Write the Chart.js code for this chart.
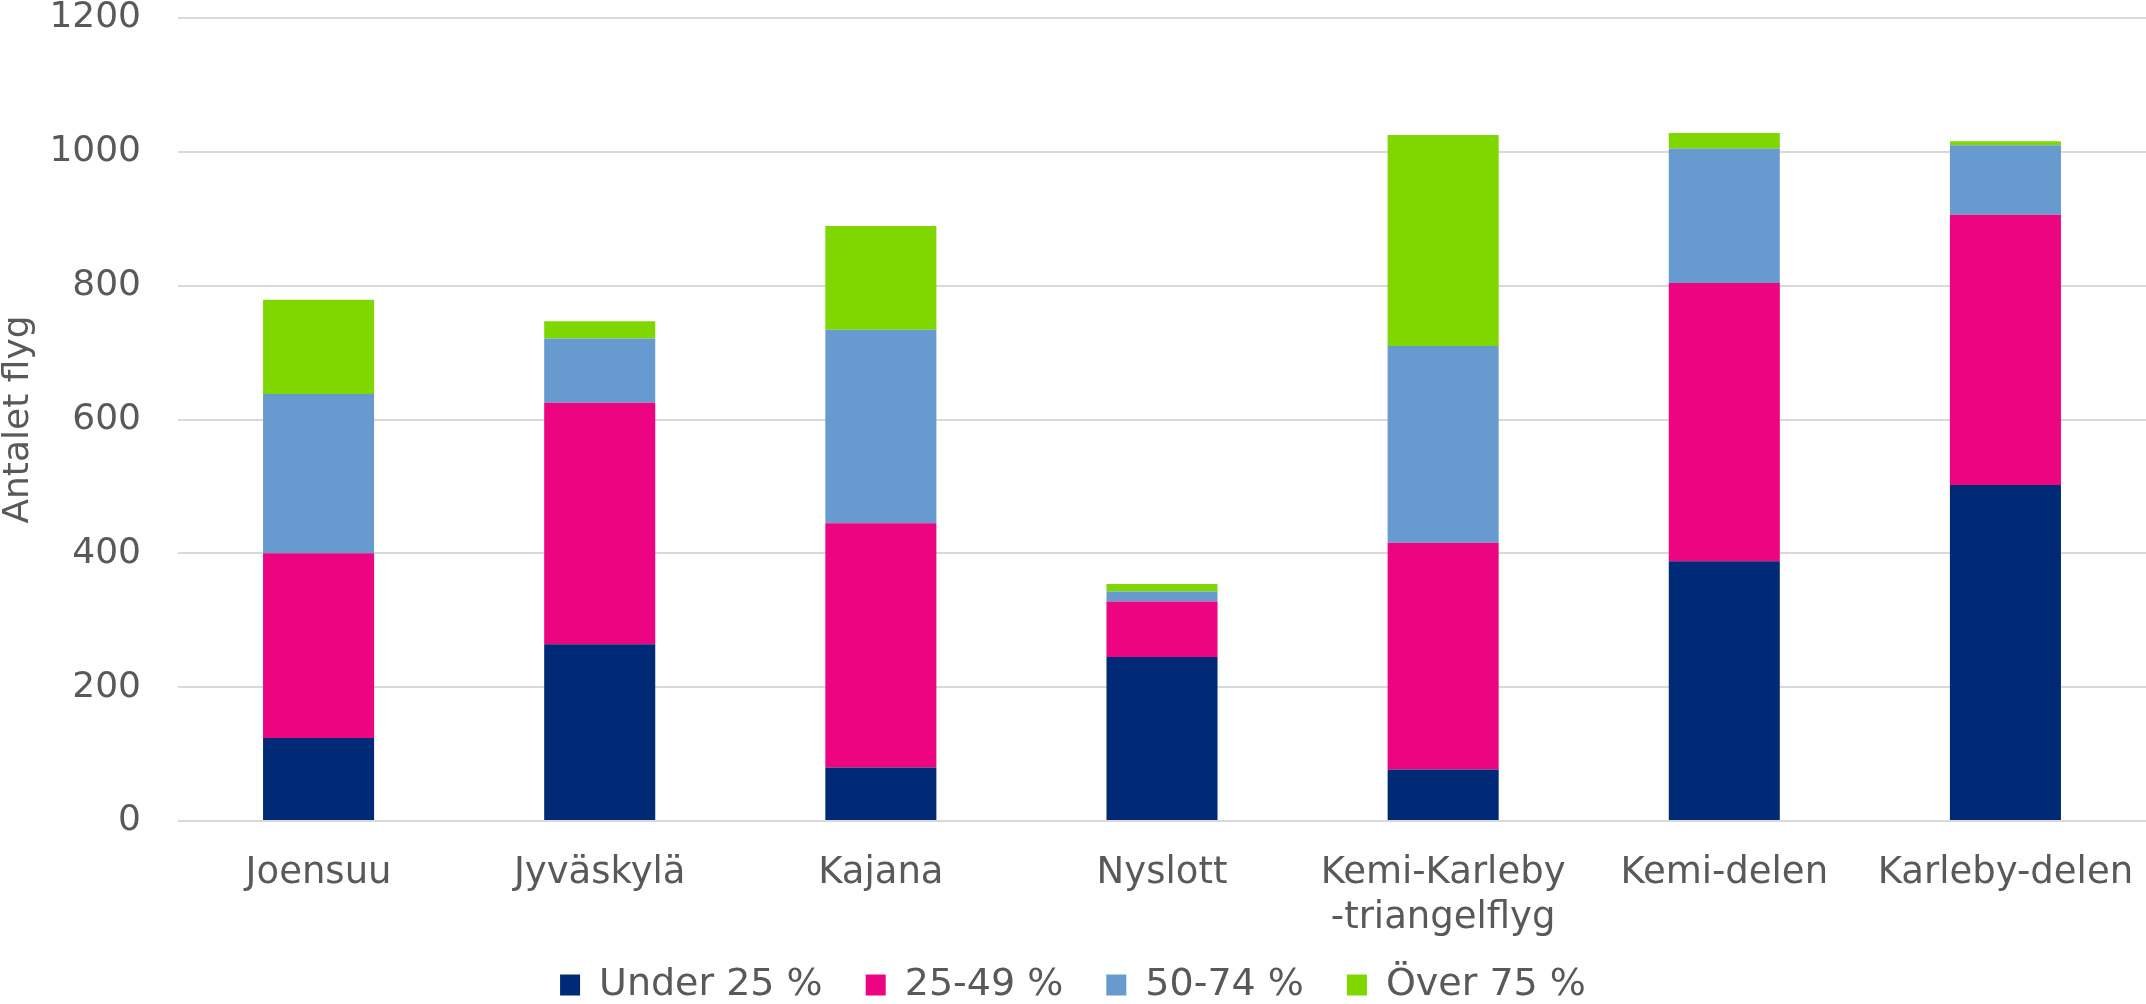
<!DOCTYPE html>
<html>
<head>
  <meta charset="UTF-8">
  <title>Antalet flyg</title>
  <script src="https://cdn.jsdelivr.net/npm/chart.js"></script>
  <style>
    body { margin: 0; background: #fff; }
    #wrap { width: 2146px; height: 1004px; position: relative; }
  </style>
</head>
<body>
  <div id="wrap"><canvas id="barChart"></canvas></div>

  <script>
    const categories = ['Joensuu', 'Jyväskylä', 'Kajana', 'Nyslott', ['Kemi-Karleby', '-triangelflyg'], 'Kemi-delen', 'Karleby-delen'];
    const seriesNames = ['Under 25 %', '25-49 %', '50-74 %', 'Över 75 %'];
    const under25 = [124, 264, 80, 245, 77, 388, 502];
    const from25to49 = [276, 361, 365, 83, 339, 416, 404];
    const from50to74 = [238, 96, 289, 15, 294, 201, 104];
    const over75 = [141, 26, 155, 11, 315, 23, 6];
    const yTicks = [0, 200, 400, 600, 800, 1000, 1200];

    const colors = ['#002a75', '#ec0480', '#679bcf', '#80d700'];
    const textColor = '#595959';
    const fam = 'DejaVu Sans';

    // legend sits a bit lower, x labels may spill under it
    const nudgeLegend = {
      id: 'nudgeLegend',
      afterLayout(chart) {
        chart.legend.top += 10;
        chart.legend.bottom += 10;
        chart.scales.x.bottom = chart.height;
      }
    };

    new Chart(document.getElementById('barChart'), {
      type: 'bar',
      data: {
        labels: categories,
        datasets: [under25, from25to49, from50to74, over75].map((d, i) => ({
          label: seriesNames[i],
          data: d,
          backgroundColor: colors[i],
          barPercentage: 0.395,
          categoryPercentage: 1
        }))
      },
      options: {
        responsive: true,
        maintainAspectRatio: false,
        devicePixelRatio: 1,
        animation: false,
        layout: { padding: { top: 1, right: 0, left: 0, bottom: 0 } },
        plugins: {
          tooltip: { enabled: false },
          legend: {
            position: 'bottom',
            labels: {
              color: textColor,
              font: { family: fam, size: 38 },
              boxWidth: 20,
              boxHeight: 21,
              padding: 43
            }
          }
        },
        scales: {
          x: {
            stacked: true,
            grid: { display: true, drawOnChartArea: false, color: 'transparent', tickColor: 'transparent', tickLength: 30 },
            border: { display: false },
            ticks: { color: textColor, font: { family: fam, size: 37, lineHeight: 1.22 }, padding: 0, maxRotation: 0, autoSkip: false },
            afterFit(s) { s.height = 92; }
          },
          y: {
            stacked: true,
            min: yTicks[0],
            max: yTicks[yTicks.length - 1],
            afterBuildTicks(s) { s.ticks = yTicks.map(v => ({ value: v })); },
            grid: { color: '#d9d9d9', lineWidth: 2, drawTicks: true, tickLength: 37, tickColor: 'transparent' },
            border: { display: false },
            ticks: { color: textColor, font: { family: fam, size: 36, lineHeight: 1 }, padding: 0, callback: v => String(v) },
            title: {
              display: true,
              text: 'Antalet flyg',
              color: textColor,
              font: { family: fam, size: 36, lineHeight: 1 },
              padding: { top: 1, bottom: 0 }
            },
            afterFit(s) { s.width = 178; }
          }
        }
      },
      plugins: [nudgeLegend]
    });
  </script>
</body>
</html>
